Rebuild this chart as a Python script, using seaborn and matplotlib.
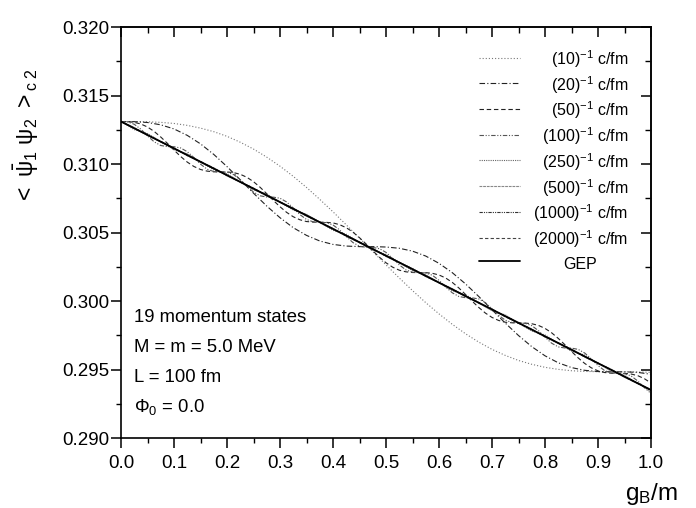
import numpy as np
import matplotlib
matplotlib.use('Agg')
import matplotlib.pyplot as plt
from matplotlib.ticker import MultipleLocator, FormatStrFormatter
import seaborn as sns

# ---------------- data ----------------
g41 = np.linspace(0.0, 1.0, 41)
g81 = np.linspace(0.0, 1.0, 81)
g21 = np.linspace(0.0, 1.0, 21)

gep = [0.31310, 0.31261, 0.31212, 0.31163, 0.31114, 0.31065, 0.31016, 0.30967, 0.30918, 0.30869,
       0.30820, 0.30771, 0.30722, 0.30673, 0.30624, 0.30575, 0.30526, 0.30477, 0.30428, 0.30379,
       0.30330, 0.30281, 0.30232, 0.30183, 0.30134, 0.30085, 0.30036, 0.29987, 0.29938, 0.29889,
       0.29840, 0.29791, 0.29742, 0.29693, 0.29644, 0.29595, 0.29546, 0.29497, 0.29448, 0.29399,
       0.29350]

tau10 = [0.31310, 0.31310, 0.31308, 0.31304, 0.31296, 0.31282, 0.31262, 0.31236, 0.31202, 0.31159,
         0.31109, 0.31050, 0.30984, 0.30910, 0.30829, 0.30742, 0.30651, 0.30556, 0.30459, 0.30361,
         0.30264, 0.30168, 0.30076, 0.29988, 0.29906, 0.29830, 0.29761, 0.29700, 0.29647, 0.29603,
         0.29566, 0.29538, 0.29516, 0.29501, 0.29491, 0.29486, 0.29484, 0.29483, 0.29483, 0.29482,
         0.29479]

tau20 = [0.31310, 0.31309, 0.31303, 0.31286, 0.31256, 0.31209, 0.31147, 0.31070, 0.30981, 0.30885,
         0.30787, 0.30693, 0.30608, 0.30535, 0.30479, 0.30438, 0.30413, 0.30401, 0.30397, 0.30397,
         0.30394, 0.30385, 0.30364, 0.30328, 0.30275, 0.30207, 0.30125, 0.30033, 0.29936, 0.29839,
         0.29748, 0.29667, 0.29600, 0.29549, 0.29514, 0.29494, 0.29485, 0.29483, 0.29483, 0.29479,
         0.29465]

tau50 = [0.31310, 0.31309, 0.31304, 0.31292, 0.31270, 0.31238, 0.31197, 0.31151, 0.31102, 0.31055,
         0.31014, 0.30982, 0.30960, 0.30948, 0.30943, 0.30942, 0.30942, 0.30937, 0.30925, 0.30903,
         0.30871, 0.30830, 0.30783, 0.30734, 0.30688, 0.30647, 0.30615, 0.30593, 0.30580, 0.30576,
         0.30575, 0.30574, 0.30570, 0.30557, 0.30535, 0.30503, 0.30462, 0.30416, 0.30367, 0.30320,
         0.30279, 0.30247, 0.30225, 0.30213, 0.30208, 0.30207, 0.30207, 0.30202, 0.30190, 0.30168,
         0.30136, 0.30095, 0.30048, 0.29999, 0.29953, 0.29912, 0.29880, 0.29858, 0.29845, 0.29841,
         0.29840, 0.29839, 0.29834, 0.29822, 0.29800, 0.29768, 0.29727, 0.29681, 0.29632, 0.29585,
         0.29544, 0.29512, 0.29490, 0.29478, 0.29473, 0.29472, 0.29472, 0.29467, 0.29455, 0.29433,
         0.29401]

tau100 = [0.31310, 0.31307, 0.31290, 0.31254, 0.31206, 0.31162, 0.31135, 0.31127, 0.31126, 0.31117,
          0.31090, 0.31047, 0.30999, 0.30962, 0.30945, 0.30942, 0.30940, 0.30923, 0.30886, 0.30838,
          0.30795, 0.30768, 0.30759, 0.30758, 0.30750, 0.30723, 0.30679, 0.30631, 0.30595, 0.30578,
          0.30575, 0.30572, 0.30555, 0.30519, 0.30471, 0.30427, 0.30400, 0.30392, 0.30391, 0.30382,
          0.30355, 0.30312, 0.30264, 0.30227, 0.30210, 0.30207, 0.30205, 0.30188, 0.30151, 0.30103,
          0.30060, 0.30033, 0.30024, 0.30023, 0.30015, 0.29988, 0.29944, 0.29896, 0.29860, 0.29843,
          0.29840, 0.29837, 0.29820, 0.29784, 0.29736, 0.29692, 0.29665, 0.29657, 0.29656, 0.29647,
          0.29620, 0.29577, 0.29529, 0.29492, 0.29475, 0.29472, 0.29470, 0.29453, 0.29416, 0.29368,
          0.29325]

tau250 = [0.31310, 0.31251, 0.31222, 0.31163, 0.31104, 0.31075, 0.31016, 0.30957, 0.30928, 0.30869,
          0.30810, 0.30781, 0.30722, 0.30663, 0.30634, 0.30575, 0.30516, 0.30487, 0.30428, 0.30369,
          0.30340, 0.30281, 0.30222, 0.30193, 0.30134, 0.30075, 0.30046, 0.29987, 0.29928, 0.29899,
          0.29840, 0.29781, 0.29752, 0.29693, 0.29634, 0.29605, 0.29546, 0.29487, 0.29458, 0.29399,
          0.29340]

tau500 = [0.31310, 0.31266, 0.31207, 0.31163, 0.31119, 0.31060, 0.31016, 0.30972, 0.30913, 0.30869,
          0.30825, 0.30766, 0.30722, 0.30678, 0.30619, 0.30575, 0.30531, 0.30472, 0.30428, 0.30384,
          0.30325, 0.30281, 0.30237, 0.30178, 0.30134, 0.30090, 0.30031, 0.29987, 0.29943, 0.29884,
          0.29840, 0.29796, 0.29737, 0.29693, 0.29649, 0.29590, 0.29546, 0.29502, 0.29443, 0.29399,
          0.29355]

tau1000 = [0.31310, 0.31215, 0.31114, 0.31019, 0.30918, 0.30823, 0.30722, 0.30627, 0.30526, 0.30431,
           0.30330, 0.30235, 0.30134, 0.30039, 0.29938, 0.29843, 0.29742, 0.29647, 0.29546, 0.29451,
           0.29350]

tau2000 = [0.31310, 0.31210, 0.31114, 0.31014, 0.30918, 0.30818, 0.30722, 0.30622, 0.30526, 0.30426,
           0.30330, 0.30230, 0.30134, 0.30034, 0.29938, 0.29838, 0.29742, 0.29642, 0.29546, 0.29446,
           0.29350]

labels = ['(10)$^{-1}$ c/fm', '(20)$^{-1}$ c/fm', '(50)$^{-1}$ c/fm', '(100)$^{-1}$ c/fm',
          '(250)$^{-1}$ c/fm', '(500)$^{-1}$ c/fm', '(1000)$^{-1}$ c/fm', '(2000)$^{-1}$ c/fm', 'GEP']

info_lines = ['19 momentum states', 'M = m = 5.0 MeV', 'L = 100 fm', r'$\Phi_0$ = 0.0']

# ---------------- style ----------------
sns.set_theme(style='ticks')
plt.rcParams['font.family'] = ['Liberation Sans', 'DejaVu Sans']
plt.rcParams['mathtext.fontset'] = 'custom'
plt.rcParams['mathtext.rm'] = 'Liberation Sans'
plt.rcParams['mathtext.it'] = 'Liberation Sans:italic'
plt.rcParams['mathtext.bf'] = 'Liberation Sans:bold'
plt.rcParams['mathtext.sf'] = 'Liberation Sans'
plt.rcParams['mathtext.default'] = 'regular'

fig = plt.figure(figsize=(6.96, 5.08), dpi=100)
ax = fig.add_axes([121 / 696, 70 / 508, 530 / 696, 411 / 508])

series = [
    (g41, tau10, dict(color='#777777', linewidth=0.8, linestyle=(0, (1, 1.8)))),
    (g41, tau20, dict(color='#222222', linewidth=0.8, linestyle=(0, (5, 2, 1, 2)))),
    (g81, tau50, dict(color='#222222', linewidth=0.8, linestyle=(0, (4, 2.5)))),
    (g81, tau100, dict(color='#555555', linewidth=0.8, linestyle=(0, (4, 1.5, 1, 1.5, 1, 1.5)))),
    (g41, tau250, dict(color='#666666', linewidth=0.8, linestyle=(0, (1, 1)))),
    (g41, tau500, dict(color='#888888', linewidth=0.8, linestyle=(0, (2.5, 0.8)))),
    (g21, tau1000, dict(color='#333333', linewidth=0.8, linestyle=(0, (3, 1, 1, 1, 1, 1)))),
    (g21, tau2000, dict(color='#444444', linewidth=0.8, linestyle=(0, (3, 2)))),
    (g41, gep, dict(color='black', linewidth=1.3, linestyle='-')),
]

for (x, y, st), lab in zip(series, labels):
    sns.lineplot(x=x, y=y, ax=ax, label=lab, estimator=None, sort=False, **st)

ax.set_xlim(0.0, 1.0)
ax.set_ylim(0.290, 0.320)

ax.xaxis.set_major_locator(MultipleLocator(0.1))
ax.xaxis.set_minor_locator(MultipleLocator(0.05))
ax.yaxis.set_major_locator(MultipleLocator(0.005))
ax.yaxis.set_minor_locator(MultipleLocator(0.0025))
ax.xaxis.set_major_formatter(FormatStrFormatter('%.1f'))
ax.yaxis.set_major_formatter(FormatStrFormatter('%.3f'))

for sp in ax.spines.values():
    sp.set_linewidth(1.2)
    sp.set_color('black')
    sp.set_visible(True)

ax.tick_params(which='both', direction='out', colors='black', top=False, right=False)
ax.tick_params(which='major', length=7, width=1.1, labelsize=13.5)
ax.tick_params(which='minor', length=3.5, width=1.0)
ax.tick_params(axis='x', which='major', pad=5)
ax.tick_params(axis='y', which='major', pad=1.5)

secx = ax.secondary_xaxis('top')
secx.xaxis.set_major_locator(MultipleLocator(0.1))
secx.xaxis.set_minor_locator(MultipleLocator(0.05))
secx.tick_params(which='both', direction='in', labeltop=False, colors='black')
secx.tick_params(which='major', length=7.5, width=1.1)
secx.tick_params(which='minor', length=4, width=1.0)
secx.spines['top'].set_linewidth(1.2)

secy = ax.secondary_yaxis('right')
secy.yaxis.set_major_locator(MultipleLocator(0.005))
secy.yaxis.set_minor_locator(MultipleLocator(0.0025))
secy.tick_params(which='both', direction='in', labelright=False, colors='black')
secy.tick_params(which='major', length=7.5, width=1.1)
secy.tick_params(which='minor', length=4, width=1.0)
secy.spines['right'].set_linewidth(1.2)

ax.set_ylabel(r'$<\ \bar{\psi}_1\ \psi_2\ >_{c\ 2}$', fontsize=16.5, color='black',
              ha='center', va='center')
ax.yaxis.set_label_coords(-0.178, 0.735)
ax.set_xlabel(r'$g_B$/m', fontsize=17.5, color='black', ha='right', va='baseline')
ax.xaxis.set_label_coords(1.05, -0.152)

for i, line in enumerate(info_lines):
    ax.text(0.0245, 0.282 - 0.073 * i, line, transform=ax.transAxes,
            fontsize=13.3, color='black', ha='left', va='baseline')

handles, labs = ax.get_legend_handles_labels()
leg = ax.legend(handles, labs, loc='upper right', bbox_to_anchor=(0.957, 0.948),
                frameon=False, fontsize=11.5, handlelength=2.6, handletextpad=0.8,
                handleheight=1.45, labelspacing=0.25, borderpad=0.0, borderaxespad=0.0)
for t in leg.get_texts():
    t.set_color('black')

# right-align the legend labels (GEP centred), as in the reference
fig.canvas.draw()
rend = fig.canvas.get_renderer()
texts = leg.get_texts()
widths = [t.get_window_extent(rend).width for t in texts]
wmax = max(widths)
for t, w in zip(texts, widths):
    dx = (wmax - w) / 2 if t.get_text() == 'GEP' else (wmax - w)
    t.set_position((dx, 0))

fig.savefig('out.png', dpi=100)
